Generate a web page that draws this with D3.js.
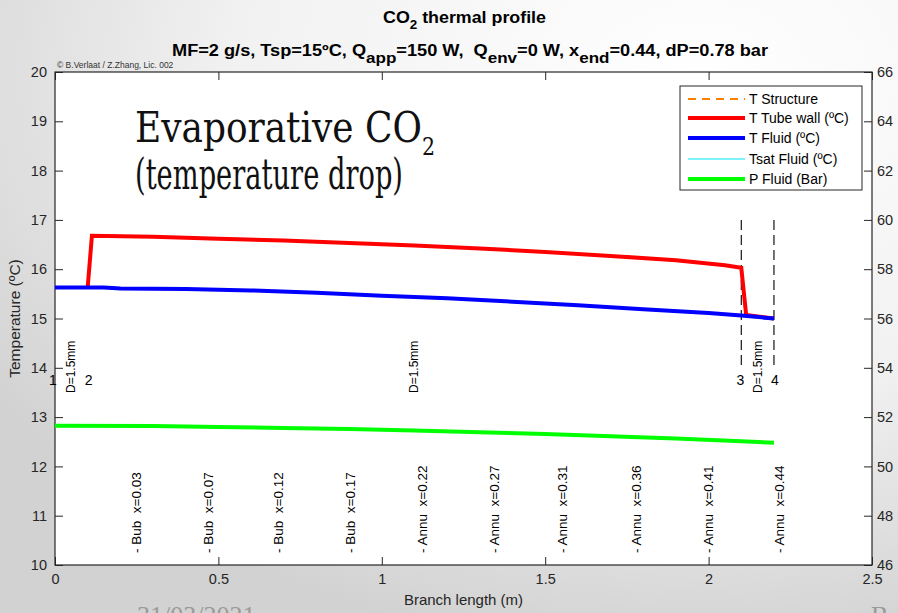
<!DOCTYPE html>
<html>
<head>
<meta charset="utf-8">
<script src="https://cdn.jsdelivr.net/npm/d3@7/dist/d3.min.js"></script>
<style>
  html, body { margin: 0; padding: 0; overflow: hidden; }
  svg { display: block; }
  text { font-family: "Liberation Sans", Arial, sans-serif; white-space: pre; }
</style>
</head>
<body>
<svg id="chart" width="898" height="613"></svg>
<script>
// Branch positions (m) and profiles along the branch
const posFluid   = [0, 0.15, 0.2, 0.4, 0.6, 0.8, 1.0, 1.2, 1.4, 1.6, 1.8, 2.0, 2.1, 2.2];
const tFluid     = [15.63, 15.63, 15.61, 15.60, 15.57, 15.52, 15.46, 15.41, 15.34, 15.27, 15.19, 15.11, 15.06, 15.00];
const tSat       = [15.63, 15.63, 15.61, 15.60, 15.57, 15.52, 15.46, 15.41, 15.34, 15.27, 15.19, 15.11, 15.06, 15.00];
const posWall    = [0.1, 0.113, 0.3, 0.5, 0.7, 0.9, 1.1, 1.3, 1.5, 1.7, 1.9, 2.05, 2.1, 2.115, 2.2];
const tWall      = [15.63, 16.68, 16.66, 16.62, 16.58, 16.53, 16.48, 16.42, 16.35, 16.27, 16.18, 16.08, 16.03, 15.07, 15.00];
const posPress   = [0, 0.3, 0.5, 0.7, 0.9, 1.1, 1.3, 1.5, 1.7, 1.9, 2.1, 2.2];
const pFluid     = [51.65, 51.64, 51.60, 51.56, 51.52, 51.46, 51.39, 51.31, 51.22, 51.13, 51.02, 50.96];

// Section boundaries, node numbers and diameters
const nodePos    = [0, 0.1, 2.1, 2.2];
const nodeNames  = ["1", "2", "3", "4"];
const sectionMid = [0.05, 1.1, 2.15];
const sectionDia = ["D=1.5mm", "D=1.5mm", "D=1.5mm"];
const markerPos  = [2.1, 2.2];

// Flow regime labels along the branch
const regimePos    = [0.25, 0.47, 0.685, 0.905, 1.125, 1.345, 1.555, 1.78, 2.0, 2.22];
const regimeLabels = ["- Bub  x=0.03", "- Bub  x=0.07", "- Bub  x=0.12", "- Bub  x=0.17",
                      "- Annu  x=0.22", "- Annu  x=0.27", "- Annu  x=0.31", "- Annu  x=0.36",
                      "- Annu  x=0.41", "- Annu  x=0.44"];

// Axis ticks
const xTicks  = [0, 0.5, 1, 1.5, 2, 2.5];
const yTicks  = [10, 11, 12, 13, 14, 15, 16, 17, 18, 19, 20];
const y2Ticks = [46, 48, 50, 52, 54, 56, 58, 60, 62, 64, 66];

// Legend entries
const legendNames = ["T Structure", "T Tube wall (\u00BAC)", "T Fluid (\u00BAC)", "Tsat Fluid (\u00BAC)", "P Fluid (Bar)"];
const legendColors = ["#ff8000", "#ff0000", "#0000ff", "#00e5ff", "#00ff00"];

const svg = d3.select("#chart");
const W = 898, H = 613;
const L = 55, R = 872, T = 72, B = 565;

// Slide background
const defs = svg.append("defs");
const grad = defs.append("radialGradient").attr("id", "bg")
  .attr("cx", "78%").attr("cy", "12%").attr("r", "95%");
grad.append("stop").attr("offset", "0%").attr("stop-color", "#ffffff");
grad.append("stop").attr("offset", "55%").attr("stop-color", "#f1f1f1");
grad.append("stop").attr("offset", "100%").attr("stop-color", "#d2d2d2");
svg.append("rect").attr("width", W).attr("height", H).attr("fill", "url(#bg)");

const x  = d3.scaleLinear().domain([0, 2.5]).range([L, R]);
const y  = d3.scaleLinear().domain([10, 20]).range([B, T]);
const y2 = d3.scaleLinear().domain([46, 66]).range([B, T]);

// Plot area
svg.append("rect").attr("x", L).attr("y", T).attr("width", R - L).attr("height", B - T)
  .attr("fill", "#ffffff");

// Footer of the slide (partly cut at the bottom)
svg.append("text").attr("x", 137).attr("y", 624)
  .style("font-family", "'Liberation Serif', 'DejaVu Serif', serif")
  .style("font-size", "26px").attr("fill", "#9a9a9a").text("31/03/2021");
svg.append("text").attr("x", 871).attr("y", 624)
  .style("font-family", "'Liberation Serif', 'DejaVu Serif', serif")
  .style("font-size", "26px").attr("fill", "#9a9a9a").text("B");

// Axes
const axColor = "#262626";
function styleAxis(g) {
  g.select(".domain").remove();
  g.selectAll(".tick line").attr("stroke", axColor).attr("stroke-width", 1);
  g.selectAll(".tick text").attr("fill", "#262626").style("font-size", "14.5px")
    .style("font-family", "'Liberation Sans', Arial, sans-serif");
}
svg.append("g").attr("transform", `translate(0,${B})`)
  .call(d3.axisBottom(x).tickValues(xTicks).tickFormat(d3.format("")).tickSize(-8).tickPadding(9))
  .call(styleAxis);
svg.append("g").attr("transform", `translate(0,${T})`)
  .call(d3.axisTop(x).tickValues(xTicks).tickFormat("").tickSize(-8))
  .call(styleAxis);
svg.append("g").attr("transform", `translate(${L},0)`)
  .call(d3.axisLeft(y).tickValues(yTicks).tickSize(-8).tickPadding(8))
  .call(styleAxis);
svg.append("g").attr("transform", `translate(${R},0)`)
  .call(d3.axisRight(y2).tickValues(y2Ticks).tickSize(-8).tickPadding(5))
  .call(styleAxis);
svg.append("rect").attr("x", L).attr("y", T).attr("width", R - L).attr("height", B - T)
  .attr("fill", "none").attr("stroke", axColor).attr("stroke-width", 1.2);

// Axis titles
svg.append("text").attr("x", (L + R) / 2).attr("y", 605).attr("text-anchor", "middle")
  .style("font-size", "15px").attr("fill", "#262626").text("Branch length (m)");
svg.append("text").attr("transform", `translate(20,${(T + B) / 2}) rotate(-90)`)
  .attr("text-anchor", "middle").style("font-size", "15.5px").attr("fill", "#262626")
  .text("Temperature (\u00BAC)");

// Titles
const t1 = svg.append("text").attr("x", 383).attr("y", 23)
  .attr("textLength", 163).attr("lengthAdjust", "spacingAndGlyphs")
  .style("font-size", "16px").style("font-weight", "bold").attr("fill", "#000");
t1.append("tspan").text("CO");
t1.append("tspan").attr("dy", 6).style("font-size", "12px").text("2");
t1.append("tspan").attr("dy", -6).text(" thermal profile");

const t2 = svg.append("text").attr("x", 172).attr("y", 56)
  .attr("textLength", 596).attr("lengthAdjust", "spacingAndGlyphs")
  .style("font-size", "16px").style("font-weight", "bold").attr("fill", "#000");
const subParts = [
  ["MF=2 g/s, Tsp=15\u00BAC, Q", false], ["app", true], ["=150 W,  Q", false], ["env", true],
  ["=0 W, x", false], ["end", true], ["=0.44, dP=0.78 bar", false]
];
subParts.forEach(([s, sub], i) => {
  const ts = t2.append("tspan").text(s);
  if (sub) ts.attr("dy", 7).style("font-size", "15px");
  else if (i > 0) ts.attr("dy", -7);
});

svg.append("text").attr("x", 57).attr("y", 68).style("font-size", "8.5px")
  .attr("fill", "#333").text("\u00A9 B.Verlaat / Z.Zhang, Lic. 002");

// Large annotation on the plot
const serif = "'DejaVu Serif', 'Liberation Serif', serif";
const big1 = svg.append("text").attr("x", 135).attr("y", 142)
  .style("font-family", serif).style("font-size", "42px").attr("fill", "#111")
  .attr("textLength", 300).attr("lengthAdjust", "spacingAndGlyphs");
big1.append("tspan").text("Evaporative CO");
big1.append("tspan").attr("dy", 13).style("font-size", "24px").text("2");
svg.append("text").attr("x", 135).attr("y", 189)
  .style("font-family", serif).style("font-size", "42px").attr("fill", "#111")
  .attr("textLength", 268).attr("lengthAdjust", "spacingAndGlyphs").text("(temperature drop)");

// Section boundary markers
svg.append("g").selectAll("line").data(markerPos).join("line")
  .attr("x1", d => x(d)).attr("x2", d => x(d))
  .attr("y1", y(17)).attr("y2", y(14.05))
  .attr("stroke", "#000").attr("stroke-width", 1.1).attr("stroke-dasharray", "10,5");

// Profiles
const lineL = d3.line().x(d => x(d[0])).y(d => y(d[1]));
const lineR = d3.line().x(d => x(d[0])).y(d => y2(d[1]));
svg.append("path").datum(d3.zip(posFluid, tSat)).attr("d", lineL)
  .attr("fill", "none").attr("stroke", "#00e5ff").attr("stroke-width", 1);
svg.append("path").datum(d3.zip(posPress, pFluid)).attr("d", lineR)
  .attr("fill", "none").attr("stroke", "#00ff00").attr("stroke-width", 4);
svg.append("path").datum(d3.zip(posWall, tWall)).attr("d", lineL)
  .attr("fill", "none").attr("stroke", "#ff0000").attr("stroke-width", 4);
svg.append("path").datum(d3.zip(posFluid, tFluid)).attr("d", lineL)
  .attr("fill", "none").attr("stroke", "#0000ff").attr("stroke-width", 4);

// Node numbers and section diameters
const nodeOffset = [-2, 1, -1, 1];
svg.append("g").selectAll("text").data(nodeNames).join("text")
  .attr("x", (d, i) => x(nodePos[i]) + nodeOffset[i]).attr("y", 385)
  .attr("text-anchor", "middle").style("font-size", "14px").attr("fill", "#000").text(d => d);
svg.append("g").selectAll("text").data(sectionDia).join("text")
  .attr("transform", (d, i) => `translate(${x(sectionMid[i]) + 4},393) rotate(-90)`)
  .style("font-size", "12px").attr("fill", "#000").text(d => d);

// Flow regime labels
svg.append("g").selectAll("text").data(regimeLabels).join("text")
  .attr("transform", (d, i) => `translate(${x(regimePos[i]) + 4},553) rotate(-90)`)
  .style("font-size", "13.5px").attr("fill", "#000").text(d => d);

// Legend
const lg = svg.append("g");
lg.append("rect").attr("x", 680).attr("y", 86).attr("width", 182).attr("height", 104)
  .attr("fill", "#fff").attr("stroke", "#262626").attr("stroke-width", 1);
const rowY = [99, 118, 138, 159, 179];
const rowW = [2, 4, 4, 1, 4];
legendNames.forEach((name, i) => {
  const ln = lg.append("line").attr("x1", 688).attr("x2", 745).attr("y1", rowY[i]).attr("y2", rowY[i])
    .attr("stroke", legendColors[i]).attr("stroke-width", rowW[i]);
  if (i === 0) ln.attr("stroke-dasharray", "8,6");
  lg.append("text").attr("x", 749).attr("y", rowY[i] + 5).style("font-size", "14px")
    .attr("fill", "#000").text(name);
});
</script>
</body>
</html>
